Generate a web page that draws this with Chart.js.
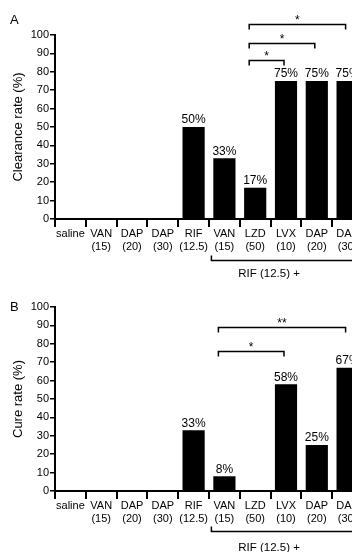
<!DOCTYPE html>
<html lang="en">
<head>
    <meta charset="UTF-8">
    <title>Clearance and cure rates</title>
    <script src="https://cdn.jsdelivr.net/npm/chart.js"></script>
    <style>
        html, body { margin: 0; padding: 0; background: #fff; overflow: hidden; }
        body { width: 352px; height: 552px; position: relative; }
        .panel { position: absolute; left: 0; width: 380px; }
        .tag { position: absolute; left: 10px; font: 13px "Liberation Sans", Arial, sans-serif; color: #000; }
    </style>
</head>
<body>
    <div class="panel" style="top:0; height:290px;"><canvas id="chartA"></canvas></div>
    <div class="panel" style="top:272px; height:280px;"><canvas id="chartB"></canvas></div>
    <div class="tag" style="top:12px;">A</div>
    <div class="tag" style="top:299px;">B</div>
    <script>
// categories (RIF 12.5 + ... for the last five)
const categories = [
    'saline', ['VAN', '(15)'], ['DAP', '(20)'], ['DAP', '(30)'], ['RIF', '(12.5)'],
    ['VAN', '(15)'], ['LZD', '(50)'], ['LVX', '(10)'], ['DAP', '(20)'], ['DAP', '(30)']
];
const clearanceRates = [0, 0, 0, 0, 50, 33, 17, 75, 75, 75];
const cureRates = [0, 0, 0, 0, 33, 8, 0, 58, 25, 67];
const yTicks = [0, 10, 20, 30, 40, 50, 60, 70, 80, 90, 100];

// significance brackets: from/to category index, height in %
const bracketsA = [
    { from: 6, to: 7, at: 86.5, text: '*' },
    { from: 6, to: 8, at: 95.5, text: '*' },
    { from: 6, to: 9, at: 106, text: '*' }
];
const bracketsB = [
    { from: 5, to: 7, at: 76, text: '*' },
    { from: 5, to: 9, at: 89, text: '**' }
];
const groupLabel = 'RIF (12.5) +';

const FONT = '"Liberation Sans", Arial, sans-serif';
Chart.defaults.font.family = FONT;
Chart.defaults.color = '#000';

// draws % labels, brackets and the "RIF (12.5) +" group line
const marksPlugin = {
    id: 'marks',
    afterDatasetsDraw(chart, args, opts) {
        const ctx = chart.ctx;
        const xs = chart.scales.x, ys = chart.scales.y;
        const values = chart.data.datasets[0].data;
        ctx.save();
        ctx.fillStyle = '#000';
        ctx.strokeStyle = '#000';
        ctx.textAlign = 'center';

        ctx.font = '12px ' + FONT;
        ctx.textBaseline = 'bottom';
        chart.getDatasetMeta(0).data.forEach((bar, i) => {
            if (values[i] > 0) ctx.fillText(values[i] + '%', bar.x, bar.y - 1);
        });

        ctx.lineWidth = 1.5;
        ctx.textBaseline = 'alphabetic';
        opts.brackets.forEach(b => {
            const x1 = xs.getPixelForValue(b.from) - 6;
            const x2 = xs.getPixelForValue(b.to) - 2;
            const y = Math.round(ys.getPixelForValue(b.at)) + 0.5;
            ctx.beginPath();
            ctx.moveTo(x1, y + 5);
            ctx.lineTo(x1, y);
            ctx.lineTo(x2, y);
            ctx.lineTo(x2, y + 5);
            ctx.stroke();
            ctx.fillText(b.text, (x1 + x2) / 2, y - 1);
        });

        const base = ys.getPixelForValue(0);
        const gx = xs.getPixelForValue(5) - 13;
        const gy = Math.round(base + opts.lineOffset) + 0.5;
        ctx.beginPath();
        ctx.moveTo(gx, gy - 5);
        ctx.lineTo(gx, gy);
        ctx.lineTo(chart.width, gy);
        ctx.stroke();
        ctx.font = '11.5px ' + FONT;
        ctx.textBaseline = 'middle';
        ctx.fillText(groupLabel, xs.getPixelForValue(6.45), base + opts.textOffset);
        ctx.restore();
    }
};

function makeChart(id, values, title, xHeight, brackets, lineOffset, textOffset) {
    return new Chart(document.getElementById(id), {
        type: 'bar',
        data: {
            labels: categories,
            datasets: [{
                data: values,
                backgroundColor: '#000',
                borderWidth: 0,
                barPercentage: 0.72,
                categoryPercentage: 1
            }]
        },
        options: {
            responsive: true,
            maintainAspectRatio: false,
            animation: false,
            layout: { padding: { top: 35, right: 17, left: 0, bottom: 0 } },
            plugins: {
                legend: { display: false },
                tooltip: { enabled: false },
                marks: { brackets: brackets, lineOffset: lineOffset, textOffset: textOffset }
            },
            scales: {
                x: {
                    border: { color: '#000', width: 2 },
                    grid: { offset: true, drawOnChartArea: false, tickLength: 8, color: '#000', lineWidth: 2 },
                    ticks: { autoSkip: false, maxRotation: 0, padding: 0, font: { size: 11 }, color: '#000' },
                    afterFit: s => { s.height = xHeight; }
                },
                y: {
                    min: 0,
                    max: 100,
                    afterBuildTicks: s => { s.ticks = yTicks.map(v => ({ value: v })); },
                    border: { color: '#000', width: 2 },
                    grid: { drawOnChartArea: false, tickLength: 5, color: '#000', lineWidth: 1.5 },
                    ticks: { padding: 1, font: { size: 11 }, color: '#000' },
                    title: { display: true, text: title, font: { size: 13 }, color: '#000', padding: { top: 11, bottom: 0 } },
                    afterFit: s => { s.width = 55; }
                }
            }
        },
        plugins: [marksPlugin]
    });
}

makeChart('chartA', clearanceRates, 'Clearance rate (%)', 71, bracketsA, 41, 55);
makeChart('chartB', cureRates, 'Cure rate (%)', 61, bracketsB, 40, 57);
    </script>
</body>
</html>
